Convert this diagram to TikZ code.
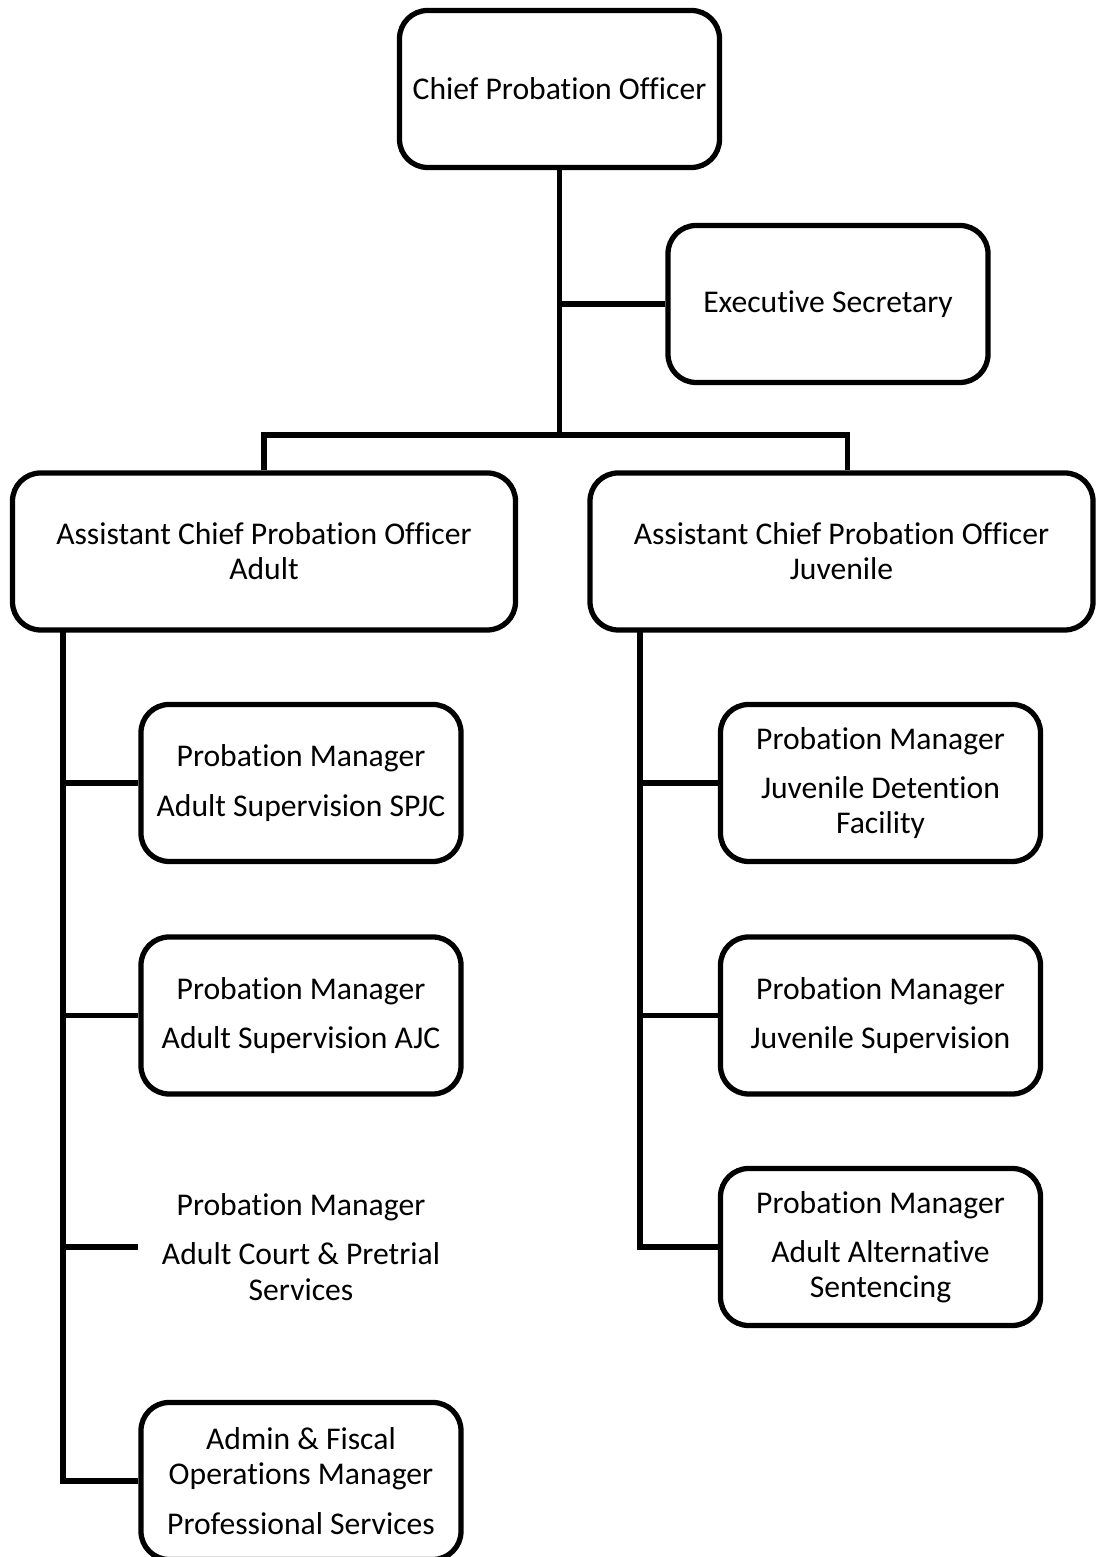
\documentclass[tikz,border=0pt]{standalone}
\usepackage{fontspec}
\setmainfont{Carlito}[RawFeature={-liga;-clig;-calt;-dlig}]
\usepackage{tikz}
\usepackage{xcolor}
\usetikzlibrary{positioning, calc}

\begin{document}
\begin{tikzpicture}[
  post/.style={rectangle, draw=black, line width=3pt, rounded corners=16pt, minimum width=6.4cm, minimum height=3.14cm, align=center, font=\fontsize{18}{20}\selectfont},
  widepost/.style={post, minimum width=10.06cm},
  plainpost/.style={post, draw=none},
  link/.style={draw=black, line width=3pt}
]
  \useasboundingbox (0,0) rectangle (21.94,31.14);

  % Top of the chart
  \node[post] (chief) at (11.19, 29.36) {Chief Probation Officer};
  \node[post] (secr)  at (16.56, 25.06) {Executive Secretary};

  % Assistant chiefs
  \node[widepost] (acpoA) at (5.28, 20.11)  {Assistant Chief Probation Officer\\Adult};
  \node[widepost] (acpoJ) at (16.83, 20.11) {Assistant Chief Probation Officer\\Juvenile};

  % Adult managers
  \node[post]      (pmA1) at (6.02, 15.48) {Probation Manager\\[8pt]Adult Supervision SPJC};
  \node[post]      (pmA2) at (6.02, 10.83) {Probation Manager\\[8pt]Adult Supervision AJC};
  \node[plainpost] (pmA3) at (6.02, 6.20)  {Probation Manager\\[8pt]Adult Court \& Pretrial\\Services};
  \node[post]      (pmA4) at (6.02, 1.52)  {Admin \& Fiscal\\Operations Manager\\[8pt]Professional Services};

  % Juvenile managers
  \node[post] (pmJ1) at (17.61, 15.48) {Probation Manager\\[8pt]Juvenile Detention\\Facility};
  \node[post] (pmJ2) at (17.61, 10.83) {Probation Manager\\[8pt]Juvenile Supervision};
  \node[post] (pmJ3) at (17.61, 6.20)  {Probation Manager\\[8pt]Adult Alternative\\Sentencing};

  % Trunk and bus
  \coordinate (bus) at (11.19, 22.44);
  \draw[link] (chief.south) -- (bus);
  \draw[link] (secr.west) -- (secr.west -| chief.south);
  \draw[link] (acpoA.north) |- (bus) -| ([xshift=0.12cm]acpoJ.north);

  % Adult spine
  \coordinate (spA) at (1.26, 18.54);
  \draw[link] (spA) |- (pmA4.west);
  \draw[link] (pmA1.west) -- (pmA1.west -| spA);
  \draw[link] (pmA2.west) -- (pmA2.west -| spA);
  \draw[link] (pmA3.west) -- (pmA3.west -| spA);

  % Juvenile spine
  \coordinate (spJ) at (12.8, 18.54);
  \draw[link] (spJ) |- (pmJ3.west);
  \draw[link] (pmJ1.west) -- (pmJ1.west -| spJ);
  \draw[link] (pmJ2.west) -- (pmJ2.west -| spJ);
\end{tikzpicture}
\end{document}
